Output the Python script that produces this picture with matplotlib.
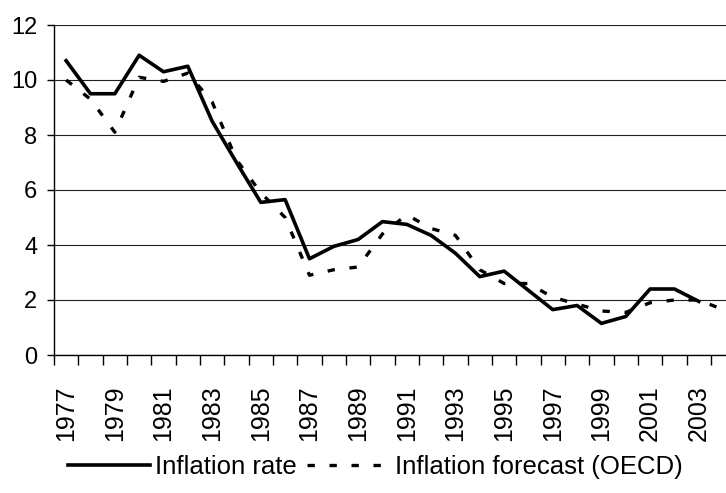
import numpy as np
import matplotlib
matplotlib.use("Agg")
from matplotlib import pyplot as plt
from matplotlib.ticker import FixedLocator, NullFormatter

years = list(range(1977, 2005))
inflation = [10.7, 9.5, 9.5, 10.9, 10.3, 10.5, 8.5, 7.0, 5.55, 5.65,
             3.5, 3.95, 4.2, 4.85, 4.75, 4.35, 3.7, 2.85, 3.05, 2.35,
             1.65, 1.8, 1.15, 1.4, 2.4, 2.4, 1.95]
forecast = [10.0, 9.3, 8.1, 10.1, 9.95, 10.25, 9.2, 7.1, 5.9, 5.0,
            2.9, 3.1, 3.2, 4.4, 5.1, 4.6, 4.35, 3.1, 2.6, 2.6,
            2.1, 1.85, 1.6, 1.55, 1.9, 2.0, 2.0, 1.65]
tick_years = [y for y in years if y % 2 == 1 and y <= 2003]

plt.rcParams['font.family'] = ['Liberation Sans', 'DejaVu Sans']

fig = plt.figure(figsize=(7.26, 4.93), dpi=100)
ax = fig.add_axes([54 / 726, 1 - 355 / 493, 1 - 54 / 726, 330 / 493])

x = np.arange(len(years))
ax.plot(x[:len(inflation)], inflation, color='black', lw=2.6,
        label='Inflation rate', zorder=3)
ax.plot(x, forecast, color='black', lw=2.4, linestyle=(0, (2.2, 4.4)),
        dash_capstyle='butt', label='Inflation forecast (OECD)', zorder=3)

ax.set_ylim(0, 12)
ax.set_xlim(-0.5, (726 - 54) / 24.33 - 0.5)
ax.set_yticks(np.arange(0, 13, 2))
ax.yaxis.grid(True, color='#222222', lw=0.8)
ax.set_axisbelow(True)

for s in ['top', 'right']:
    ax.spines[s].set_visible(False)
ax.spines['left'].set_linewidth(1.0)
ax.spines['bottom'].set_linewidth(1.0)

ax.tick_params(axis='y', length=5, width=1, pad=7, labelsize=17)
ax.set_xticks([years.index(y) for y in tick_years])
ax.set_xticklabels([str(y) for y in tick_years], rotation=90, fontsize=18)
ax.tick_params(axis='x', which='major', length=0, pad=22)
ax.xaxis.set_minor_locator(FixedLocator(np.arange(-0.5, len(years), 1)))
ax.xaxis.set_minor_formatter(NullFormatter())
ax.tick_params(axis='x', which='minor', length=7, width=1)

fig.legend(loc='center left', bbox_to_anchor=(68 / 726, 1 - 467 / 493),
           ncol=2, frameon=False, fontsize=18.5, handlelength=3.2,
           handletextpad=0.2, columnspacing=0.4, borderpad=0,
           borderaxespad=0)

fig.savefig('out.png', dpi=100)
